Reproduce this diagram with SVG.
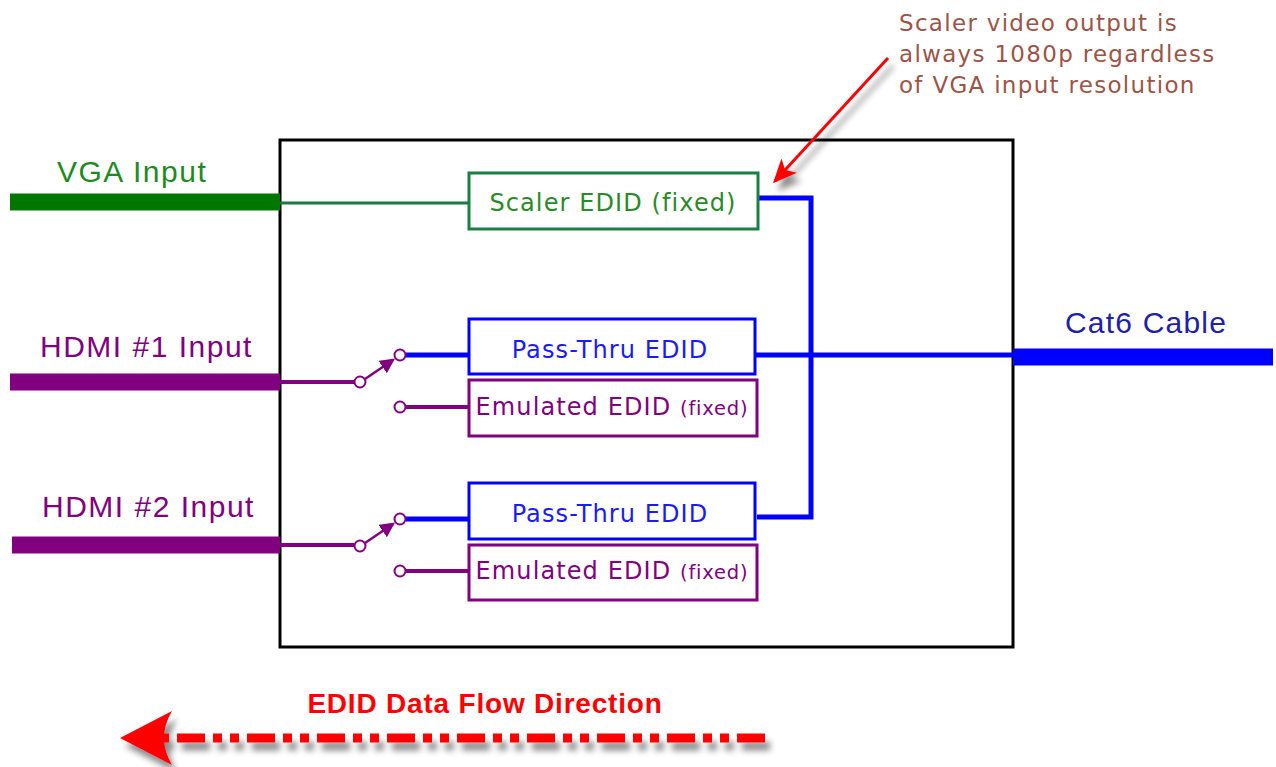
<svg xmlns="http://www.w3.org/2000/svg" width="1276" height="767" viewBox="0 0 1276 767">
<style>
.lbl{font-family:"Liberation Sans",Arial,sans-serif;font-size:30px;letter-spacing:1.5px}
.nt{font-family:"DejaVu Sans",Verdana,sans-serif;font-size:24px;letter-spacing:1.1px;text-anchor:middle}
.sm{font-size:19.5px;letter-spacing:0.8px}
.box{fill:#fff;stroke-width:3}
.sw{fill:#fff;stroke:#800080;stroke-width:2}
.blue{stroke:#0000ff;stroke-width:5;fill:none}
.purp{stroke:#800080;stroke-width:4;fill:none}
</style>
<defs>
<filter id="sh" x="-20%" y="-50%" width="140%" height="200%">
<feGaussianBlur in="SourceAlpha" stdDeviation="3"/>
<feOffset dx="5" dy="8" result="b"/>
<feComponentTransfer><feFuncA type="linear" slope="0.45"/></feComponentTransfer>
<feMerge><feMergeNode/><feMergeNode in="SourceGraphic"/></feMerge>
</filter>
<marker id="ra" markerWidth="8" markerHeight="8" refX="7" refY="4" orient="auto" markerUnits="strokeWidth">
<path d="M0 0.5 L8 4 L0 7.5 L2 4 Z" fill="#ff0000"/>
</marker>
<marker id="pa" markerWidth="6" markerHeight="6" refX="5" refY="3" orient="auto" markerUnits="strokeWidth">
<path d="M0 0 L6 3 L0 6 Z" fill="#800080"/>
</marker>
</defs>
<rect width="1276" height="767" fill="#fff"/>

<g id="enclosure">
<rect x="280" y="140" width="733" height="507" fill="none" stroke="#000" stroke-width="3"/>
</g>

<g id="connectors">
<line x1="10" y1="202" x2="280" y2="202" stroke="#007800" stroke-width="17"/>
<line x1="10" y1="382" x2="280" y2="382" stroke="#800080" stroke-width="17"/>
<line x1="12" y1="545" x2="280" y2="545" stroke="#800080" stroke-width="17"/>
<line x1="1013" y1="357" x2="1273" y2="357" stroke="#0000ff" stroke-width="17"/>
<line x1="280" y1="203" x2="469" y2="203" stroke="#1a7a40" stroke-width="3"/>
<path class="purp" d="M280 382 H354"/>
<path class="purp" d="M280 545 H354"/>
<path class="blue" d="M406 355 H469"/>
<path class="blue" d="M406 519 H469"/>
<path class="purp" d="M406 407 H469"/>
<path class="purp" d="M406 571 H469"/>
<path class="blue" d="M757 198 H811 V517 H757"/>
<path class="blue" d="M755 355 H1013"/>
<line x1="365" y1="379" x2="393" y2="360" stroke="#800080" stroke-width="2.5" marker-end="url(#pa)"/>
<line x1="365" y1="543" x2="393" y2="524" stroke="#800080" stroke-width="2.5" marker-end="url(#pa)"/>
<circle class="sw" cx="360" cy="382" r="5.5"/>
<circle class="sw" cx="400" cy="355" r="5.5"/>
<circle class="sw" cx="400" cy="407" r="5.5"/>
<circle class="sw" cx="360" cy="546" r="5.5"/>
<circle class="sw" cx="400" cy="519" r="5.5"/>
<circle class="sw" cx="400" cy="571" r="5.5"/>
<line x1="888" y1="58" x2="775" y2="181" stroke="#ff0000" stroke-width="3" marker-end="url(#ra)" filter="url(#sh)"/>
</g>

<g id="scaler">
<rect class="box" x="469" y="173" width="289" height="56" stroke="#1a8040"/>
<text class="nt" x="613" y="211" fill="#2a8a2a">Scaler EDID (fixed)</text>
</g>

<g id="passthru1">
<rect class="box" x="469" y="319" width="286" height="55" stroke="#0000ff"/>
<text class="nt" x="610" y="358" fill="#1a1aff">Pass-Thru EDID</text>
</g>
<g id="emulated1">
<rect class="box" x="469" y="380" width="288" height="56" stroke="#800080"/>
<text class="nt" x="612" y="415" fill="#800080">Emulated EDID <tspan class="sm">(fixed)</tspan></text>
</g>

<g id="passthru2">
<rect class="box" x="469" y="483" width="286" height="56" stroke="#0000ff"/>
<text class="nt" x="610" y="522" fill="#1a1aff">Pass-Thru EDID</text>
</g>
<g id="emulated2">
<rect class="box" x="469" y="545" width="288" height="55" stroke="#800080"/>
<text class="nt" x="612" y="579" fill="#800080">Emulated EDID <tspan class="sm">(fixed)</tspan></text>
</g>

<g id="labels">
<text class="lbl" x="57" y="182" fill="#1f8a1f">VGA Input</text>
<text class="lbl" x="40" y="357" fill="#800080">HDMI #1 Input</text>
<text class="lbl" x="42" y="517" fill="#800080">HDMI #2 Input</text>
<text class="lbl" x="1065" y="333" fill="#2020a8" style="letter-spacing:1.2px">Cat6 Cable</text>
</g>

<g id="annotation">
<text font-family="DejaVu Sans, Verdana, sans-serif" font-size="23" letter-spacing="1.3" fill="#9a5548">
<tspan x="899" y="31">Scaler video output is</tspan>
<tspan x="899" y="62">always 1080p regardless</tspan>
<tspan x="899" y="93">of VGA input resolution</tspan>
</text>
</g>

<g id="flow">
<g filter="url(#sh)">
<line x1="765" y1="738" x2="160" y2="738" stroke="#ff0000" stroke-width="9" stroke-dasharray="28 8 9 8 9 8"/>
<path d="M120 738 L172 711 Q156 738 172 765 Z" fill="#ff0000"/>
</g>
<text x="485" y="713" text-anchor="middle" font-family="Liberation Sans, Arial, sans-serif" font-weight="bold" font-size="28" letter-spacing="0.8" fill="#ff0000">EDID Data Flow Direction</text>
</g>
</svg>
